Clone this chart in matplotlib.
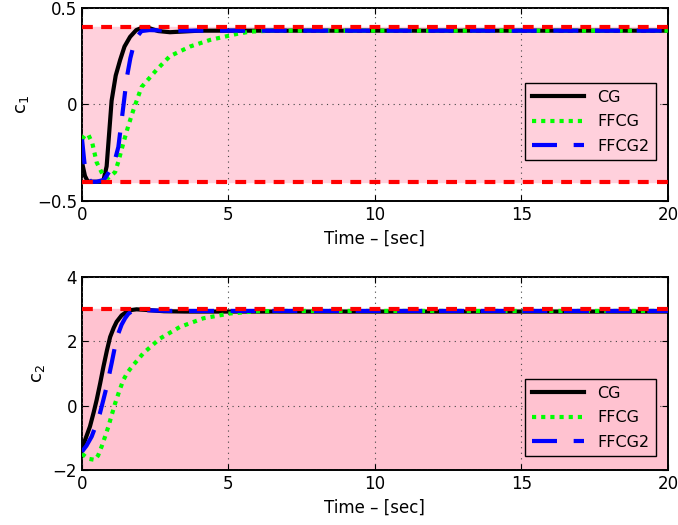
import matplotlib
matplotlib.use("Agg")
import matplotlib.pyplot as plt

# c1 data (time, value)
t_cg1 = [0, 0.1, 0.2, 0.27, 0.5, 0.72, 0.84, 1.01, 1.15, 1.30, 1.45, 1.64, 1.85, 2.09, 2.3, 2.6, 3.0, 3.5, 4.0, 5.0, 20]
c_cg1 = [-0.30, -0.37, -0.40, -0.40, -0.40, -0.40, -0.32, 0.02, 0.15, 0.23, 0.30, 0.35, 0.385, 0.40, 0.395, 0.38, 0.374, 0.378, 0.382, 0.382, 0.382]

t_ff1 = [0, 0.1, 0.21, 0.35, 0.5, 0.73, 0.9, 1.13, 1.25, 1.41, 1.58, 1.75, 2.03, 2.55, 3.0, 3.69, 4.37, 5.28, 5.73, 6.5, 20]
c_ff1 = [-0.18, -0.16, -0.155, -0.20, -0.30, -0.37, -0.38, -0.35, -0.29, -0.20, -0.11, -0.03, 0.09, 0.18, 0.25, 0.30, 0.334, 0.365, 0.377, 0.382, 0.382]

t_ff21 = [0, 0.08, 0.16, 0.3, 0.5, 0.75, 0.96, 1.1, 1.24, 1.41, 1.53, 1.65, 1.75, 1.9, 2.03, 2.3, 3.0, 20]
c_ff21 = [-0.18, -0.30, -0.37, -0.40, -0.40, -0.39, -0.34, -0.30, -0.22, -0.01, 0.14, 0.24, 0.30, 0.355, 0.38, 0.385, 0.382, 0.382]

# c2 data
t_cg2 = [0, 0.1, 0.27, 0.4, 0.5, 0.62, 0.73, 0.85, 0.96, 1.08, 1.18, 1.35, 1.52, 1.70, 1.86, 2.2, 2.8, 3.5, 20]
c_cg2 = [-1.30, -1.08, -0.65, -0.20, 0.18, 0.70, 1.21, 1.72, 2.14, 2.42, 2.61, 2.81, 2.92, 2.98, 3.00, 2.98, 2.94, 2.93, 2.93]

t_ff2 = [0, 0.2, 0.44, 0.55, 0.67, 0.78, 0.90, 1.01, 1.13, 1.27, 1.41, 1.55, 1.70, 2.09, 2.66, 3.34, 4.14, 5.05, 5.96, 7.0, 20]
c_ff2 = [-1.50, -1.65, -1.69, -1.55, -1.27, -0.98, -0.65, -0.30, 0.07, 0.45, 0.80, 1.03, 1.21, 1.63, 2.09, 2.45, 2.72, 2.87, 2.94, 2.95, 2.95]

t_ff22 = [0, 0.15, 0.33, 0.47, 0.61, 0.72, 0.84, 1.01, 1.12, 1.24, 1.35, 1.47, 1.58, 1.70, 1.9, 2.2, 3.0, 20]
c_ff22 = [-1.43, -1.25, -0.96, -0.62, -0.24, 0.15, 0.59, 1.32, 1.82, 2.25, 2.52, 2.72, 2.86, 2.94, 2.98, 2.97, 2.95, 2.95]

c1_bounds = [-0.4, 0.4]
c2_bounds = [-2.0, 3.0]

fig = plt.figure(figsize=(6.78, 5.25), dpi=100)
ax1 = fig.add_axes([0.121, 0.617, 0.864, 0.368])
ax2 = fig.add_axes([0.121, 0.105, 0.864, 0.367])


def style(ax, ylim, yticks, ylabel):
    ax.set_xlim(0, 20)
    ax.set_ylim(*ylim)
    ax.set_xticks([0, 5, 10, 15, 20])
    ax.set_yticks(yticks)
    ax.grid(True, linestyle=(0, (1, 4)), color="#444444", linewidth=0.8)
    ax.set_axisbelow(False)
    ax.tick_params(direction="in", labelsize=12, length=4, top=True, right=True)
    ax.set_xlabel("Time \u2013 [sec]", fontsize=12)
    ax.set_ylabel(ylabel, fontsize=13)
    for s in ax.spines.values():
        s.set_linewidth(1.4)


# top
ax1.axhspan(c1_bounds[0], c1_bounds[1], color="#ffd0dc", zorder=0)
ax1.plot(t_cg1, c_cg1, color="black", linewidth=3, label="CG", zorder=3)
ax1.plot(t_ff1, c_ff1, color="#00ff00", linewidth=3, linestyle=(0, (1, 1.2)), label="FFCG", zorder=3)
ax1.plot(t_ff21, c_ff21, color="blue", linewidth=3, linestyle=(0, (6, 4)), label="FFCG2", zorder=4)
for b in c1_bounds:
    ax1.axhline(b, color="red", linewidth=3, linestyle=(0, (2.6, 2)), zorder=5)
style(ax1, (-0.5, 0.5), [-0.5, 0, 0.5], r"c$_1$")
ax1.set_yticklabels(["\u22120.5", "0", "0.5"])
ax1.legend(loc="lower right", bbox_to_anchor=(0.993, 0.17), fontsize=11.5, framealpha=1,
           facecolor="#ffd0dc", edgecolor="black", fancybox=False, handlelength=3.3,
           labelspacing=0.6)

# bottom
ax2.axhspan(c2_bounds[0], c2_bounds[1], color="#ffc2d0", zorder=0)
ax2.plot(t_cg2, c_cg2, color="black", linewidth=3, label="CG", zorder=3)
ax2.plot(t_ff2, c_ff2, color="#00ff00", linewidth=3, linestyle=(0, (1, 1.2)), label="FFCG", zorder=3)
ax2.plot(t_ff22, c_ff22, color="blue", linewidth=3, linestyle=(0, (6, 4)), label="FFCG2", zorder=4)
ax2.axhline(c2_bounds[1], color="red", linewidth=3, linestyle=(0, (2.6, 2)), zorder=5)
style(ax2, (-2, 4), [-2, 0, 2, 4], r"c$_2$")
ax2.set_yticklabels(["\u22122", "0", "2", "4"])
ax2.legend(loc="lower right", bbox_to_anchor=(0.993, 0.03), fontsize=11.5, framealpha=1,
           facecolor="#ffc2d0", edgecolor="black", fancybox=False, handlelength=3.3,
           labelspacing=0.6)

fig.savefig("out.png", dpi=100)
